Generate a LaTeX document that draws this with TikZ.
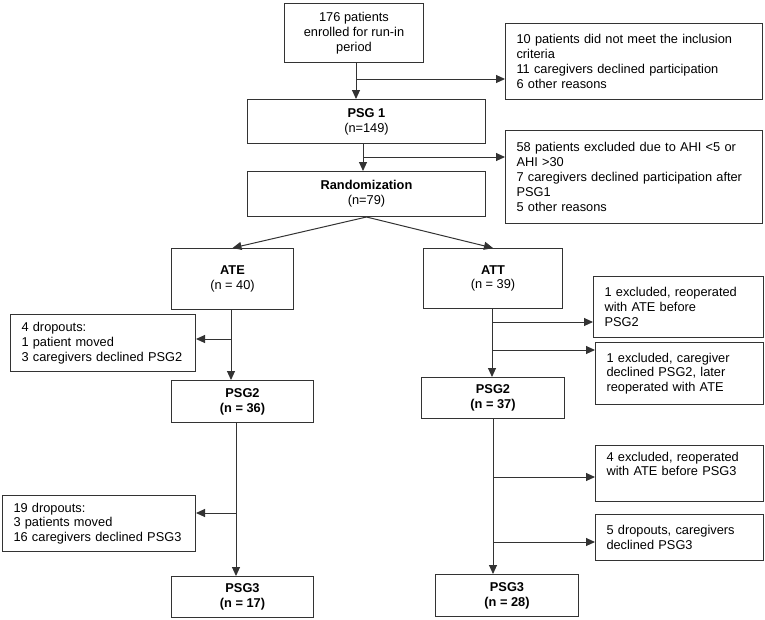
\documentclass[tikz,border=0pt]{standalone}
\usepackage{fontspec}
\setmainfont{Liberation Sans}
\usetikzlibrary{arrows.meta}

\begin{document}
\begin{tikzpicture} [
						x=1pt, y=-1pt,
						font=\fontsize{12.8}{14.8}\selectfont,
						box/.style={draw=black!80, line width=1pt, anchor=north west, align=center, inner sep=2pt},
						note/.style={box, align=left, inner xsep=11pt},
						flow/.style={draw=black!80, line width=1pt, -{Triangle[length=9pt, width=8pt]}}
					]

\useasboundingbox (0,0) rectangle (765,619);

\node (enrol) [box, minimum width=139pt, minimum height=59pt] at (284,3) {176 patients\\enrolled for run-in\\period};
\node (excl1) [note, text width=235pt, minimum height=76pt] at (505,23) {10 patients did not meet the inclusion\\criteria\\11 caregivers declined participation\\6 other reasons};
\node (psg1) [box, minimum width=238pt, minimum height=44pt] at (247,99) {\textbf{PSG 1}\\(n=149)};
\node (excl2) [note, text width=235pt, minimum height=93pt] at (505,130) {58 patients excluded due to AHI <5 or\\AHI >30\\7 caregivers declined participation after\\PSG1\\5 other reasons};
\node (random) [box, minimum width=238pt, minimum height=45pt] at (247,171) {\textbf{Randomization}\\(n=79)};

\node (ate) [box, minimum width=122pt, minimum height=61pt] at (171,248) {\textbf{ATE}\\(n = 40)};
\node (drop1) [note, text width=163pt, minimum height=57pt] at (10,314) {4 dropouts:\\1 patient moved\\3 caregivers declined PSG2};
\node (psg2a) [box, minimum width=142pt, minimum height=42pt] at (171,380) {\textbf{PSG2}\\\textbf{(n = 36)}};
\node (drop2) [note, text width=171pt, minimum height=56pt] at (2,495) {19 dropouts:\\3 patients moved\\16 caregivers declined PSG3};
\node (psg3a) [box, minimum width=142pt, minimum height=41pt] at (171,576) {\textbf{PSG3}\\\textbf{(n = 17)}};

\node (att) [box, minimum width=139pt, minimum height=60pt] at (423,248) {\textbf{ATT}\\(n = 39)};
\node (excl3) [note, text width=148pt, minimum height=61pt] at (593,276) {1 excluded, reoperated\\with ATE before\\PSG2};
\node (excl4) [note, text width=146pt, minimum height=62pt] at (595,342) {1 excluded, caregiver\\declined PSG2, later\\reoperated with ATE};
\node (psg2b) [box, minimum width=143pt, minimum height=41pt] at (421,377) {\textbf{PSG2}\\\textbf{(n = 37)}};
\node (excl5) [note, text width=146pt, minimum height=56pt, text depth=34pt] at (595,445) {4 excluded, reoperated\\with ATE before PSG3};
\node (drop3) [note, text width=146pt, minimum height=46pt] at (595,514) {5 dropouts, caregivers\\declined PSG3};
\node (psg3b) [box, minimum width=143pt, minimum height=42pt] at (435,574) {\textbf{PSG3}\\\textbf{(n = 28)}};

\coordinate (fork1) at (356,79);
\coordinate (fork2) at (363,157);
\coordinate (fork3) at (231,339);
\coordinate (fork4) at (236,513);
\coordinate (fork5) at (492,322);
\coordinate (fork6) at (492,350);
\coordinate (fork7) at (493,477);
\coordinate (fork8) at (493,542);

\draw[flow] (fork1 |- enrol.south) -- (fork1 |- psg1.north);
\draw[flow] (fork1) -- (fork1 -| excl1.west);
\draw[flow] (fork2 |- psg1.south) -- (fork2 |- random.north);
\draw[flow] (fork2) -- (fork2 -| excl2.west);

\draw[flow] (random.south) -- (ate.north);
\draw[flow] (random.south) -- (att.north);

\draw[flow] (fork3 |- ate.south) -- (fork3 |- psg2a.north);
\draw[flow] (fork3) -- (fork3 -| drop1.east);
\draw[flow] (fork4 |- psg2a.south) -- (fork4 |- psg3a.north);
\draw[flow] (fork4) -- (fork4 -| drop2.east);

\draw[flow] (fork5 |- att.south) -- (fork5 |- psg2b.north);
\draw[flow] (fork5) -- (fork5 -| excl3.west);
\draw[flow] (fork6) -- (fork6 -| excl4.west);
\draw[flow] (fork7 |- psg2b.south) -- (fork7 |- psg3b.north);
\draw[flow] (fork7) -- (fork7 -| excl5.west);
\draw[flow] (fork8) -- (fork8 -| drop3.west);

\end{tikzpicture}
\end{document}
